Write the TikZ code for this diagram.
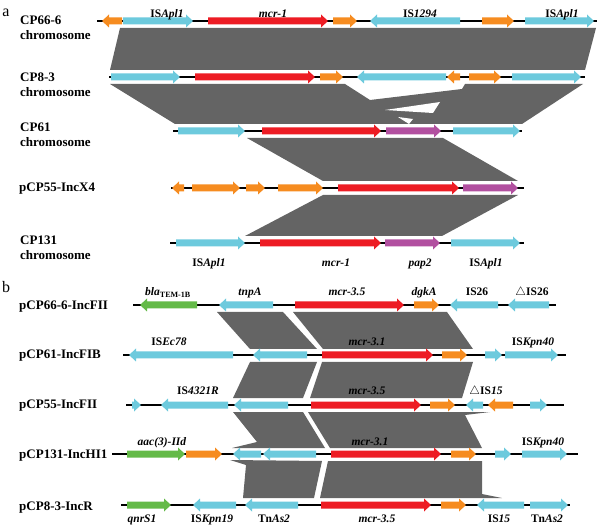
\documentclass[tikz,border=0pt]{standalone}
\usepackage{fontspec}
\setmainfont{Liberation Serif}
\definecolor{gcyan}{RGB}{109,202,221}
\definecolor{gred}{RGB}{237,28,36}
\definecolor{gorange}{RGB}{246,140,32}
\definecolor{ggreen}{RGB}{100,186,72}
\definecolor{gpurple}{RGB}{178,80,160}
\definecolor{bandgray}{RGB}{100,100,100}
\newcommand{\gene}[4]{\pgfmathsetmacro{\hl}{ifthenelse(#3>#2,1,-1)*min(7,abs(#3-#2))}%
  \fill[#1] (#2,#4-3.5) -- ({#3-\hl},#4-3.5) -- ({#3-\hl},#4-6.5) -- (#3,#4) -- ({#3-\hl},#4+6.5) -- ({#3-\hl},#4+3.5) -- (#2,#4+3.5) -- cycle;}

\begin{document}
\begin{tikzpicture}[x=1pt,y=-1pt,
  rowlab/.style={anchor=base west,inner sep=0pt,font=\fontsize{13}{15}\selectfont\bfseries},
  glab/.style={anchor=base,inner sep=0pt,font=\fontsize{11.5}{13}\selectfont\bfseries},
  panel/.style={anchor=base,inner sep=0pt,font=\fontsize{16}{18}\selectfont},
  band/.style={fill=bandgray},
  bb/.style={line width=1.2pt}]
\useasboundingbox (0,0) rectangle (600,529);
% panel a
\node[panel] (pa) at (6,16.5) {a};
\node[rowlab] (ra1) at (20,25) {CP66-6};
\node[rowlab] (ra1b) at (20,40) {chromosome};
\node[rowlab] (ra2) at (20,82) {CP8-3};
\node[rowlab] (ra2b) at (20,97) {chromosome};
\node[rowlab] (ra3) at (20,132) {CP61};
\node[rowlab] (ra3b) at (20,147) {chromosome};
\node[rowlab] (ra4) at (19,192) {pCP55-IncX4};
\node[rowlab] (ra5) at (20,245) {CP131};
\node[rowlab] (ra5b) at (20,260) {chromosome};
\fill[band] (120,28) -- (596,28) -- (585,70) -- (110,70) -- cycle;
\fill[band] (110,84) -- (345,84) -- (370,100) -- (462,89) -- (465,84) -- (583,84) -- (522,124) -- (175,124) -- cycle;
\fill[white] (385,110) -- (440,102) -- (433,113) -- cycle;
\fill[white] (398,117) -- (413,119) -- (409,124) -- cycle;
\fill[band] (247,138) -- (443,138) -- (518,181) -- (323,181) -- cycle;
\fill[band] (323,195) -- (518,195) -- (442,236) -- (245,236) -- cycle;
\foreach \y/\l/\r in {21/97/597,77/109/585,131/173/522,188/171/524,243/170/524}
  \draw[bb] (\l,\y) -- (\r,\y);
\foreach \c/\s/\e in {gorange/122/102,gcyan/123/193,gred/208/328,gorange/333/357,gcyan/460/370,gorange/482/514,gcyan/525/594}
  \gene{\c}{\s}{\e}{21};
\foreach \c/\s/\e in {gcyan/111/180,gred/195/315,gorange/320/343,gcyan/446/357,gorange/460/447,gorange/469/501,gcyan/512/581}
  \gene{\c}{\s}{\e}{77};
\foreach \c/\s/\e in {gcyan/178/245,gred/262/381,gpurple/386/441,gcyan/453/520}
  \gene{\c}{\s}{\e}{131};
\foreach \c/\s/\e in {gorange/184/172,gorange/192/240,gorange/246/265,gorange/278/323,gred/338/459,gpurple/463/518}
  \gene{\c}{\s}{\e}{188};
\foreach \c/\s/\e in {gcyan/176/245,gred/260/381,gpurple/385/440,gcyan/451/520}
  \gene{\c}{\s}{\e}{243};
\node[glab] (ga1) at (167,18) {IS\textit{Apl1}};
\node[glab] (ga2) at (273,18) {\textit{mcr-1}};
\node[glab] (ga3) at (420,18) {IS\textit{1294}};
\node[glab] (ga4) at (562,18) {IS\textit{Apl1}};
\node[glab] (ga5) at (209,266.5) {IS\textit{Apl1}};
\node[glab] (ga6) at (336,266.5) {\textit{mcr-1}};
\node[glab] (ga7) at (420,266.5) {\textit{pap2}};
\node[glab] (ga8) at (486,266.5) {IS\textit{Apl1}};
% panel b
\node[panel] (pb) at (6,292.5) {b};
\node[rowlab] (rb1) at (19,310) {pCP66-6-IncFII};
\node[rowlab] (rb2) at (19,358.5) {pCP61-IncFIB};
\node[rowlab] (rb3) at (19,408.5) {pCP55-IncFII};
\node[rowlab] (rb4) at (19,458.5) {pCP131-IncHI1};
\node[rowlab] (rb5) at (19,510) {pCP8-3-IncR};
\fill[band] (217,312) -- (283,312) -- (317,349) -- (250,349) -- cycle;
\fill[band] (293,312) -- (447,312) -- (473,349) -- (323,349) -- cycle;
\fill[band] (250,362) -- (317,362) -- (303,398) -- (233,398) -- cycle;
\fill[band] (322,362) -- (473,362) -- (462,398) -- (310,398) -- cycle;
\fill[band] (233,412) -- (303,412) -- (325,448) -- (232,448) -- (257,442) -- cycle;
\fill[band] (308,412) -- (490,412) -- (465,415) -- (482,448) -- (330,448) -- cycle;
\fill[band] (230,460) -- (322,461) -- (314,498) -- (243,498) -- (246,465) -- cycle;
\fill[band] (328,461) -- (482,461) -- (482,494) -- (502,498) -- (320,498) -- cycle;
\foreach \y/\l/\r in {305/133/556,355/123/566,405/126/564,454/112/578,505/121/570}
  \draw[bb] (\l,\y) -- (\r,\y);
\foreach \c/\s/\e in {ggreen/197/140,gcyan/273/219,gred/295/404,gorange/414/439,gcyan/498/450,gcyan/549/508}
  \gene{\c}{\s}{\e}{305};
\foreach \c/\s/\e in {gcyan/233/129,gcyan/307/253,gred/322/433,gorange/442/467,gcyan/485/502,gcyan/505/558}
  \gene{\c}{\s}{\e}{355};
\foreach \c/\s/\e in {gcyan/132/141,gcyan/228/161,gcyan/288/234,gred/311/421,gorange/430/455,gcyan/483/466,gorange/513/488,gcyan/530/547}
  \gene{\c}{\s}{\e}{405};
\foreach \c/\s/\e in {ggreen/127/185,gorange/186/222,gcyan/261/233,gcyan/316/263,gred/331/441,gorange/451/476,gcyan/495/511,gcyan/522/567}
  \gene{\c}{\s}{\e}{454};
\foreach \c/\s/\e in {ggreen/127/171,gcyan/236/193,gcyan/298/245,gred/321/431,gorange/441/466,gcyan/524/477,gcyan/530/568}
  \gene{\c}{\s}{\e}{505};
\node[glab] (gb1) at (168,296) {\textit{bla}\textsubscript{TEM-1B}};
\node[glab] (gb2) at (250,296) {\textit{tnpA}};
\node[glab] (gb3) at (347,296) {\textit{mcr-3.5}};
\node[glab] (gb4) at (424,296) {\textit{dgkA}};
\node[glab] (gb5) at (477,296) {IS26};
\node[glab] (gb6) at (532,296) {$\triangle$IS26};
\node[glab] (gb7) at (169,346) {IS\textit{Ec78}};
\node[glab] (gb8) at (367,346) {\textit{mcr-3.1}};
\node[glab] (gb9) at (533,346) {IS\textit{Kpn40}};
\node[glab] (gb10) at (198,395) {IS\textit{4321R}};
\node[glab] (gb11) at (367,395) {\textit{mcr-3.5}};
\node[glab] (gb12) at (486,395) {$\triangle$IS\textit{15}};
\node[glab] (gb13) at (162,445) {\textit{aac(3)-IId}};
\node[glab] (gb14) at (370,445) {\textit{mcr-3.1}};
\node[glab] (gb15) at (543,445) {IS\textit{Kpn40}};
\node[glab] (gb16) at (142,522.5) {\textit{qnrS1}};
\node[glab] (gb17) at (212,522.5) {IS\textit{Kpn19}};
\node[glab] (gb18) at (274,522.5) {Tn\textit{As2}};
\node[glab] (gb19) at (377,522.5) {\textit{mcr-3.5}};
\node[glab] (gb20) at (499,522.5) {IS\textit{15}};
\node[glab] (gb21) at (547,522.5) {Tn\textit{As2}};
\end{tikzpicture}
\end{document}
